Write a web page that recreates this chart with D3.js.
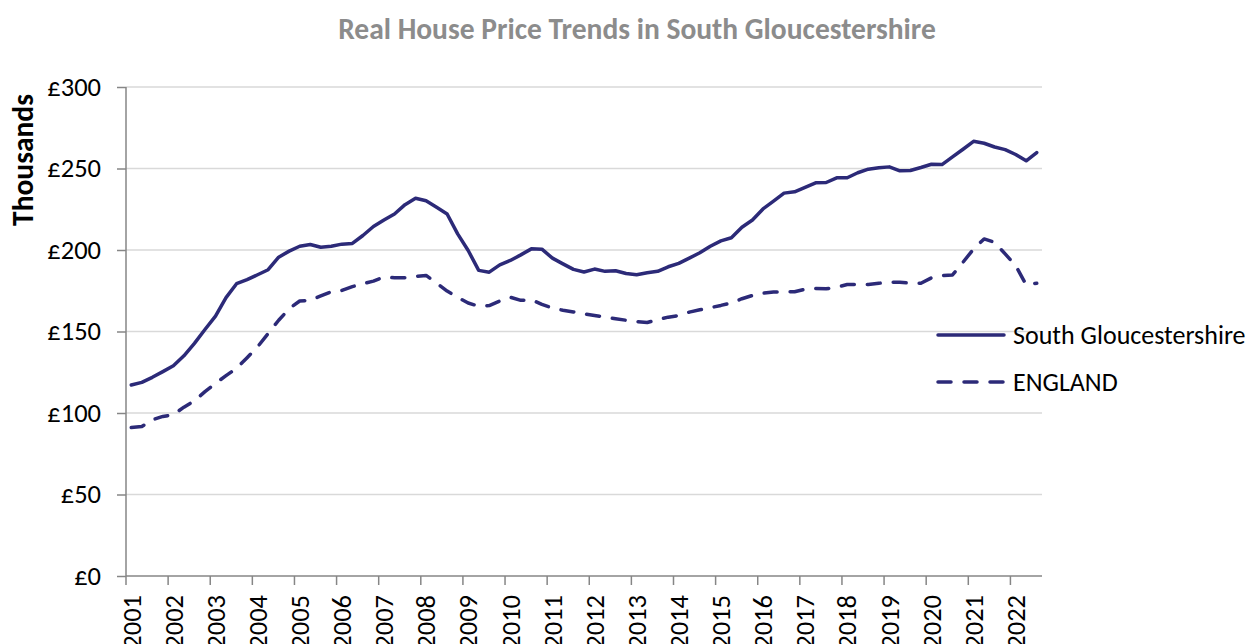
<!DOCTYPE html>
<html lang="en">
<head>
<meta charset="UTF-8">
<title>Real House Price Trends in South Gloucestershire</title>
<script src="https://d3js.org/d3.v7.min.js"></script>
<style>
    body {
        margin: 0;
        background: #fff;
        font-family: Calibri, Carlito, Lato, sans-serif;
    }
    .grid line { stroke: #d9d9d9; stroke-width: 1.5; }
    .axis path, .axis line { stroke: #868686; stroke-width: 1.5; }
    .axis text { fill: #000; font-size: 26.5px; font-family: Calibri, Carlito, Lato, sans-serif; }
    .series { fill: none; stroke: #2c2a78; stroke-width: 3.5; stroke-linejoin: round; stroke-linecap: round; }
    .dashed { stroke-dasharray: 13 13; }
</style>
</head>
<body>
<div id="chart"></div>
<script>
    // quarterly real prices, £ thousands, 2001 Q1 - 2022 Q3
    const southGlos = [
        117.2, 118.8, 121.9, 125.4, 129.0, 135.1, 142.7, 151.2, 159.4, 170.8,
        179.3, 181.8, 184.8, 187.9, 195.6, 199.3, 202.3, 203.4, 201.7, 202.3,
        203.6, 204.0, 208.9, 214.4, 218.4, 222.1, 227.8, 231.7, 230.2, 226.2,
        222.1, 209.9, 199.7, 187.5, 186.4, 190.9, 193.6, 197.0, 200.7, 200.5,
        195.0, 191.5, 188.1, 186.5, 188.3, 186.9, 187.3, 185.6, 184.8, 186.0,
        186.9, 189.7, 191.8, 195.0, 198.3, 202.3, 205.6, 207.5, 214.0, 218.4,
        225.2, 230.0, 234.9, 235.7, 238.4, 241.2, 241.4, 244.3, 244.3, 247.4,
        249.6, 250.4, 251.0, 248.6, 248.8, 250.6, 252.6, 252.4, 257.1, 261.8,
        266.7, 265.5, 263.2, 261.6, 258.6, 254.7, 259.8
    ];
    const england = [
        91.1, 91.7, 95.8, 97.9, 98.9, 103.6, 107.5, 113.1, 118.2, 122.9,
        127.4, 133.9, 140.6, 148.8, 156.9, 164.0, 168.7, 169.1, 171.8, 174.4,
        175.2, 177.5, 179.3, 180.9, 183.4, 183.0, 183.0, 183.8, 184.4, 179.7,
        174.8, 171.0, 167.5, 165.5, 165.9, 168.7, 171.0, 169.1, 169.5, 166.6,
        164.4, 163.0, 162.0, 160.8, 159.8, 158.8, 157.8, 156.9, 156.1, 155.5,
        157.3, 158.8, 159.8, 161.9, 163.3, 164.6, 166.0, 167.6, 170.1, 172.1,
        173.5, 174.2, 174.4, 174.4, 176.0, 176.4, 176.2, 177.2, 178.8, 178.8,
        178.8, 179.6, 180.2, 180.2, 179.6, 179.6, 182.9, 184.3, 184.7, 192.5,
        200.6, 206.8, 204.7, 197.6, 190.4, 178.6, 179.6
    ];
    const yearLabels = [
        "2001", "2002", "2003", "2004", "2005", "2006", "2007", "2008", "2009", "2010", "2011",
        "2012", "2013", "2014", "2015", "2016", "2017", "2018", "2019", "2020", "2021", "2022"
    ];
    const yTicks = [0, 50, 100, 150, 200, 250, 300];
    const seriesNames = ["South Gloucestershire", "ENGLAND"];

    const width = 1251, height = 644;
    const plotLeft = 126, plotRight = 1042, plotTop = 87, plotBottom = 576;

    const quarters = southGlos.map((d, i) => yearLabels[Math.floor(i / 4)] + " Q" + (i % 4 + 1));

    const svg = d3.select("#chart").append("svg")
        .attr("width", width)
        .attr("height", height);

    const x = d3.scaleBand().domain(quarters).range([plotLeft, plotRight]);
    const y = d3.scaleLinear().domain([0, 300]).range([plotBottom, plotTop]);

    // gridlines
    svg.append("g")
        .attr("class", "grid")
        .selectAll("line")
        .data(yTicks.filter(d => d > 0))
        .enter()
        .append("line")
        .attr("x1", plotLeft)
        .attr("x2", plotRight)
        .attr("y1", d => y(d))
        .attr("y2", d => y(d));

    // y axis
    svg.append("g")
        .attr("class", "axis")
        .attr("transform", `translate(${plotLeft},0)`)
        .call(d3.axisLeft(y).tickValues(yTicks).tickSize(9).tickSizeOuter(0).tickPadding(16)
            .tickFormat(d => "£" + d))
        .call(g => g.select(".domain").attr("d", `M0,${plotBottom}V${plotTop}`));

    // x axis, tick at the start of each year, label centred on the first quarter
    const firstQuarters = quarters.filter((q, i) => i % 4 === 0);
    const xAxis = svg.append("g")
        .attr("class", "axis")
        .attr("transform", `translate(0,${plotBottom})`);
    xAxis.append("line")
        .attr("x1", plotLeft)
        .attr("x2", plotRight);
    xAxis.selectAll(".tick")
        .data(firstQuarters)
        .enter()
        .append("line")
        .attr("class", "tick")
        .attr("x1", d => x(d))
        .attr("x2", d => x(d))
        .attr("y1", 0)
        .attr("y2", 9);
    xAxis.selectAll(".label")
        .data(firstQuarters)
        .enter()
        .append("text")
        .attr("class", "label")
        .attr("transform", d => `translate(${x(d) + x.bandwidth() / 2},19) rotate(-90)`)
        .attr("text-anchor", "end")
        .attr("dy", "0.35em")
        .text((d, i) => yearLabels[i]);

    // lines
    const line = d3.line()
        .x((d, i) => x(quarters[i]) + x.bandwidth() / 2)
        .y(d => y(d));

    svg.append("path")
        .datum(southGlos)
        .attr("class", "series")
        .attr("d", line);

    svg.append("path")
        .datum(england)
        .attr("class", "series dashed")
        .attr("d", line);

    // legend
    const legend = svg.append("g")
        .attr("transform", "translate(938,335)");
    seriesNames.forEach((name, i) => {
        const g = legend.append("g").attr("transform", `translate(0,${i * 47})`);
        g.append("line")
            .attr("class", i === 1 ? "series dashed" : "series")
            .attr("x1", 0)
            .attr("x2", 66);
        g.append("text")
            .attr("x", 75)
            .attr("dy", "0.35em")
            .style("font-size", "26px")
            .text(name);
    });

    // titles
    svg.append("text")
        .attr("x", 637)
        .attr("y", 29)
        .attr("dy", "0.35em")
        .attr("text-anchor", "middle")
        .style("font-size", "29.5px")
        .style("font-weight", "bold")
        .style("fill", "#8c8c8c")
        .text("Real House Price Trends in South Gloucestershire");

    svg.append("text")
        .attr("transform", "translate(23,160) rotate(-90)")
        .attr("text-anchor", "middle")
        .attr("dy", "0.35em")
        .style("font-size", "29.5px")
        .style("font-weight", "bold")
        .text("Thousands");
</script>
</body>
</html>
